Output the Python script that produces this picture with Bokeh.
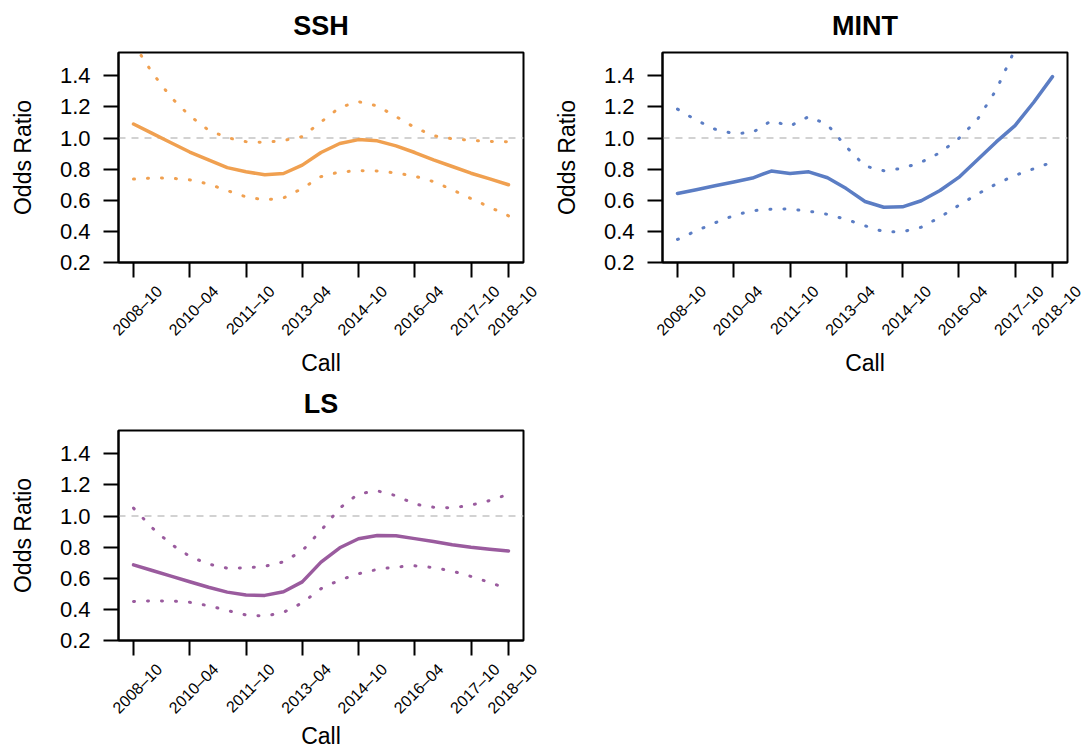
import math
from bokeh.plotting import figure
from bokeh.layouts import column, row
from bokeh.models import Range1d, FixedTicker, NumeralTickFormatter, Span
from bokeh.embed import file_html
from bokeh.resources import INLINE

# ---------------- data ----------------
calls = ["2008-10", "2009-04", "2009-10", "2010-04", "2010-10", "2011-04", "2011-10",
         "2012-04", "2012-10", "2013-04", "2013-10", "2014-04", "2014-10", "2015-04",
         "2015-10", "2016-04", "2016-10", "2017-04", "2017-10", "2018-04", "2018-10"]
tick_calls = ["2008-10", "2010-04", "2011-10", "2013-04", "2014-10", "2016-04", "2017-10", "2018-10"]
y_ticks = [0.2, 0.4, 0.6, 0.8, 1.0, 1.2, 1.4]

ssh_est = [1.09, 1.03, 0.97, 0.91, 0.86, 0.81, 0.783, 0.764, 0.772, 0.826, 0.907,
           0.965, 0.99, 0.982, 0.95, 0.907, 0.86, 0.817, 0.774, 0.738, 0.70]
ssh_hi = [1.607, 1.42, 1.262, 1.143, 1.051, 1.002, 0.977, 0.972, 0.984, 1.009, 1.103,
          1.197, 1.234, 1.207, 1.138, 1.068, 1.015, 0.996, 0.985, 0.978, 0.976]
ssh_lo = [0.736, 0.743, 0.742, 0.731, 0.705, 0.662, 0.622, 0.602, 0.615, 0.676, 0.752,
          0.782, 0.79, 0.788, 0.776, 0.755, 0.72, 0.668, 0.611, 0.556, 0.50]

mint_est = [0.644, 0.668, 0.693, 0.718, 0.743, 0.788, 0.772, 0.783, 0.745, 0.675, 0.592,
            0.555, 0.558, 0.597, 0.663, 0.747, 0.86, 0.975, 1.08, 1.23, 1.395]
mint_hi = [1.186, 1.115, 1.057, 1.029, 1.035, 1.111, 1.077, 1.138, 1.086, 0.944, 0.82,
           0.79, 0.805, 0.845, 0.906, 0.997, 1.12, 1.31, 1.57, 1.8, 2.05]
mint_lo = [0.348, 0.404, 0.455, 0.502, 0.533, 0.543, 0.544, 0.53, 0.51, 0.477, 0.436,
           0.398, 0.398, 0.427, 0.491, 0.567, 0.64, 0.705, 0.76, 0.803, 0.845]

ls_est = [0.686, 0.65, 0.614, 0.578, 0.542, 0.511, 0.492, 0.49, 0.513, 0.577, 0.704,
          0.796, 0.854, 0.875, 0.873, 0.855, 0.836, 0.816, 0.80, 0.787, 0.776]
ls_hi = [1.051, 0.924, 0.819, 0.741, 0.691, 0.665, 0.666, 0.677, 0.706, 0.777, 0.907,
         1.051, 1.143, 1.162, 1.131, 1.077, 1.057, 1.053, 1.07, 1.10, 1.14]
ls_lo = [0.451, 0.455, 0.454, 0.446, 0.424, 0.393, 0.364, 0.357, 0.381, 0.442, 0.533,
         0.589, 0.629, 0.657, 0.673, 0.68, 0.669, 0.646, 0.612, 0.573, 0.53]

FONT = "Liberation Sans"
C_SSH = "#F0A050"
C_MINT = "#5B7DC4"
C_LS = "#9A5B9E"

FRAME_W, FRAME_H = 405, 210
BORDER_L, BORDER_T, BORDER_B = 118, 52, 16
N = len(calls) - 1
PAD = 0.04 * N
TICK_IDX = [calls.index(c) for c in tick_calls]


def panel(name, color, est, lo, hi, br):
    x = list(range(len(calls)))
    p = figure(frame_width=FRAME_W, frame_height=FRAME_H,
               x_range=Range1d(-PAD, N + PAD), y_range=Range1d(0.2, 1.55),
               output_backend="svg", toolbar_location=None,
               min_border_left=BORDER_L, min_border_right=br,
               min_border_top=BORDER_T, min_border_bottom=BORDER_B)
    p.title.text = name
    p.title.align = "center"
    p.title.vertical_align = "top"
    p.title.text_font = FONT
    p.title.text_font_size = "27px"
    p.title.text_font_style = "bold"
    p.title.text_color = "black"
    p.title.standoff = 20
    p.xgrid.visible = False
    p.ygrid.visible = False
    p.outline_line_color = "black"
    p.outline_line_width = 2
    p.background_fill_color = "white"
    p.border_fill_color = "white"

    ya = p.yaxis[0]
    ya.ticker = FixedTicker(ticks=y_ticks)
    ya.formatter = NumeralTickFormatter(format="0.0")
    ya.major_tick_out = 15
    ya.major_tick_in = 0
    ya.minor_tick_out = 0
    ya.minor_tick_in = 0
    ya.major_tick_line_width = 2
    ya.axis_line_width = 2
    ya.major_label_text_font = FONT
    ya.major_label_text_font_size = "22px"
    ya.major_label_text_color = "black"
    ya.major_label_standoff = 13
    ya.axis_label = "Odds Ratio"
    ya.axis_label_text_font = FONT
    ya.axis_label_text_font_size = "23px"
    ya.axis_label_text_font_style = "normal"
    ya.axis_label_text_color = "black"
    ya.axis_label_standoff = 21

    # x axis of the panel: tick marks only (labels are drawn by the strip below)
    xa = p.xaxis[0]
    xa.ticker = FixedTicker(ticks=TICK_IDX)
    xa.major_label_overrides = {i: "" for i in TICK_IDX}
    xa.major_label_text_font_size = "0px"
    xa.major_label_standoff = 0
    xa.major_tick_out = 15
    xa.major_tick_in = 0
    xa.minor_tick_out = 0
    xa.minor_tick_in = 0
    xa.major_tick_line_width = 2
    xa.axis_line_width = 2

    p.add_layout(Span(location=1.0, dimension="width", line_color="#C4C4C4",
                      line_width=1.5, line_dash="7 6", level="underlay"))

    p.line(x, est, line_color=color, line_width=3.5, line_join="round", line_cap="round")
    for b in (hi, lo):
        p.line(x, b, line_color=color, line_width=3, line_dash="1 13",
               line_cap="round", line_join="round")
    return p


def label_strip(bl, frame_w, br, bb, call_standoff, shift_px=26.0):
    """Axis strip holding the 45-degree call labels (centred under each tick) and 'Call'."""
    ppu = FRAME_W / (N + 2 * PAD)
    u0 = -PAD - ((BORDER_L - bl) + shift_px) / ppu
    u1 = u0 + frame_w / ppu
    s = figure(frame_width=frame_w, frame_height=1,
               x_range=Range1d(u0, u1), y_range=Range1d(0, 1),
               output_backend="svg", toolbar_location=None,
               min_border_left=bl, min_border_right=br,
               min_border_top=0, min_border_bottom=bb)
    s.outline_line_color = None
    s.xgrid.visible = False
    s.ygrid.visible = False
    s.yaxis.visible = False
    s.background_fill_color = "white"
    s.border_fill_color = "white"
    xa = s.xaxis[0]
    xa.ticker = FixedTicker(ticks=TICK_IDX)
    xa.major_label_overrides = {i: c.replace("-", "\u2013") for i, c in zip(TICK_IDX, tick_calls)}
    xa.major_label_orientation = math.pi / 4
    xa.major_label_text_font = FONT
    xa.major_label_text_font_size = "16px"
    xa.major_label_text_color = "black"
    xa.major_label_standoff = 9
    xa.major_tick_out = 0
    xa.major_tick_in = 0
    xa.minor_tick_out = 0
    xa.minor_tick_in = 0
    xa.axis_line_color = None
    xa.axis_label = "Call"
    xa.axis_label_text_font = FONT
    xa.axis_label_text_font_size = "23px"
    xa.axis_label_text_font_style = "normal"
    xa.axis_label_text_color = "black"
    xa.axis_label_standoff = call_standoff
    return s


p1 = panel("SSH", C_SSH, ssh_est, ssh_lo, ssh_hi, 21)
p2 = panel("MINT", C_MINT, mint_est, mint_lo, mint_hi, 15)
p3 = panel("LS", C_LS, ls_est, ls_lo, ls_hi, 21)
l1 = label_strip(100, 441, 3, 97, 2)
l2 = label_strip(100, 441, 0, 97, 2)
l3 = label_strip(100, 441, 3, 92, -3)

layout = column(row(p1, p2), row(l1, l2), row(p3), row(l3))

open("out.html", "w").write(file_html(layout, INLINE))
